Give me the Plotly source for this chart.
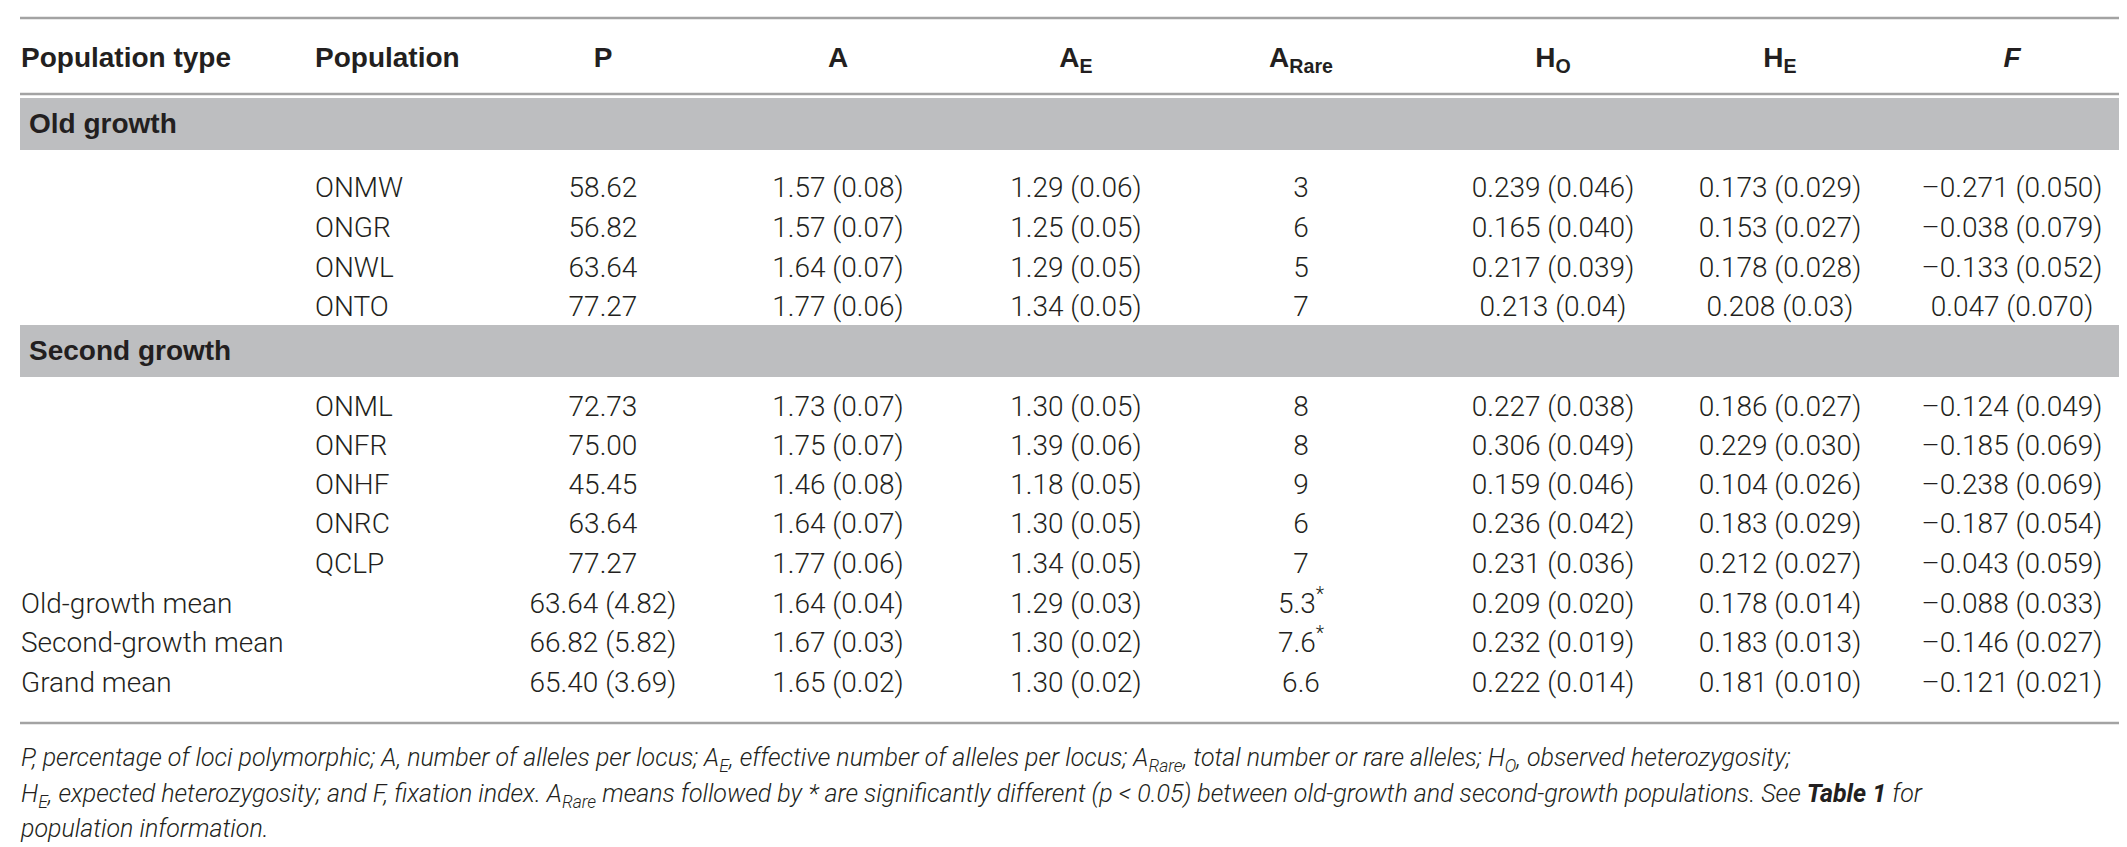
import plotly.graph_objects as go

# ---------------- data ----------------
populations = ["ONMW", "ONGR", "ONWL", "ONTO", "ONML", "ONFR", "ONHF", "ONRC", "QCLP"]
pop_groups = ["Old growth", "Second growth"]
group_sizes = [4, 5]
P = ["58.62", "56.82", "63.64", "77.27", "72.73", "75.00", "45.45", "63.64", "77.27"]
A = ["1.57", "1.57", "1.64", "1.77", "1.73", "1.75", "1.46", "1.64", "1.77"]
A_se = ["0.08", "0.07", "0.07", "0.06", "0.07", "0.07", "0.08", "0.07", "0.06"]
AE = ["1.29", "1.25", "1.29", "1.34", "1.30", "1.39", "1.18", "1.30", "1.34"]
AE_se = ["0.06", "0.05", "0.05", "0.05", "0.05", "0.06", "0.05", "0.05", "0.05"]
ARare = ["3", "6", "5", "7", "8", "8", "9", "6", "7"]
HO = ["0.239", "0.165", "0.217", "0.213", "0.227", "0.306", "0.159", "0.236", "0.231"]
HO_se = ["0.046", "0.040", "0.039", "0.04", "0.038", "0.049", "0.046", "0.042", "0.036"]
HE = ["0.173", "0.153", "0.178", "0.208", "0.186", "0.229", "0.104", "0.183", "0.212"]
HE_se = ["0.029", "0.027", "0.028", "0.03", "0.027", "0.030", "0.026", "0.029", "0.027"]
F = ["–0.271", "–0.038", "–0.133", "0.047", "–0.124", "–0.185", "–0.238", "–0.187", "–0.043"]
F_se = ["0.050", "0.079", "0.052", "0.070", "0.049", "0.069", "0.069", "0.054", "0.059"]

mean_labels = ["Old-growth mean", "Second-growth mean", "Grand mean"]
mean_P = ["63.64 (4.82)", "66.82 (5.82)", "65.40 (3.69)"]
mean_A = ["1.64 (0.04)", "1.67 (0.03)", "1.65 (0.02)"]
mean_AE = ["1.29 (0.03)", "1.30 (0.02)", "1.30 (0.02)"]
mean_ARare = ["5.3<sup>*</sup>", "7.6<sup>*</sup>", "6.6"]
mean_HO = ["0.209 (0.020)", "0.232 (0.019)", "0.222 (0.014)"]
mean_HE = ["0.178 (0.014)", "0.183 (0.013)", "0.181 (0.010)"]
mean_F = ["–0.088 (0.033)", "–0.146 (0.027)", "–0.121 (0.021)"]

headers = ["Population type", "Population", "P", "A", "A<sub>E</sub>", "A<sub>Rare</sub>",
           "H<sub>O</sub>", "H<sub>E</sub>", "<i>F</i>"]

footnote = [
    "<i>P, percentage of loci polymorphic; A, number of alleles per locus; A<sub>E</sub>, effective number of alleles per locus; "
    "A<sub>Rare</sub>, total number or rare alleles; H<sub>O</sub>, observed heterozygosity;</i>",
    "<i>H<sub>E</sub>, expected heterozygosity; and F, fixation index. A<sub>Rare</sub> means followed by * are significantly "
    "different (p &lt; 0.05) between old-growth and second-growth populations. See </i><b><i>Table 1</i></b><i> for</i>",
    "<i>population information.</i>",
]

# ---------------- layout constants ----------------
W, H = 2127, 847
col_x = [13, 307, 595, 830, 1068, 1293, 1545, 1772, 2004]
header_y = 52
band_y = [(90, 142), (317, 369)]
group_label_y = [118, 345]
row_y = [182, 222, 262, 301, 401, 440, 479, 518, 558]
mean_y = [598, 637, 677]
rule_y = [10, 86, 715]
foot_y = [752, 788, 823]
x_left, x_right = 12, 2115

TXT = "#231f20"
LIGHT = "Roboto, 'Liberation Sans', Arial, sans-serif"
BOLD = "'Liberation Sans', Arial, sans-serif"
FS = 28

fig = go.Figure()


def add_text(xs, ys, texts, pos="middle center", size=FS, family=LIGHT, weight=300, color=TXT):
    fig.add_trace(go.Scatter(
        x=xs, y=ys, text=texts, mode="text", textposition=pos,
        textfont=dict(family=family, size=size, color=color, weight=weight),
        hoverinfo="skip", showlegend=False, cliponaxis=False))


# header
for i, h in enumerate(headers):
    pos = "middle right" if i < 2 else "middle center"
    add_text([col_x[i]], [header_y], [h], pos=pos, family=BOLD, weight=700, size=FS)

# group labels
for g, gy in zip(pop_groups, group_label_y):
    add_text([21], [gy], [g], pos="middle right", family=BOLD, weight=700, size=FS)

# population rows
combo = lambda v, s: [f"{a} ({b})" for a, b in zip(v, s)]
cols = [populations, P, combo(A, A_se), combo(AE, AE_se), ARare,
        combo(HO, HO_se), combo(HE, HE_se), combo(F, F_se)]
for j, vals in enumerate(cols):
    pos = "middle right" if j == 0 else "middle center"
    add_text([col_x[j + 1]] * len(vals), row_y, vals, pos=pos)

# mean rows
add_text([col_x[0]] * 3, mean_y, mean_labels, pos="middle right")
mcols = [mean_P, mean_A, mean_AE, mean_ARare, mean_HO, mean_HE, mean_F]
for j, vals in enumerate(mcols):
    add_text([col_x[j + 2]] * 3, mean_y, vals)

# footnote
add_text([col_x[0]] * 3, foot_y, footnote, pos="middle right", size=25)

shapes = []
for (y0, y1) in band_y:
    shapes.append(dict(type="rect", xref="x", yref="y", x0=x_left, x1=x_right, y0=y0, y1=y1,
                       fillcolor="#bdbec0", line=dict(width=0), layer="below"))
for ry in rule_y:
    shapes.append(dict(type="line", xref="x", yref="y", x0=x_left, x1=x_right, y0=ry, y1=ry,
                       line=dict(color="#a3a3a3", width=2.5), layer="below"))

fig.update_layout(
    width=W, height=H, margin=dict(l=0, r=0, t=0, b=0),
    paper_bgcolor="white", plot_bgcolor="white",
    xaxis=dict(range=[0, W], visible=False, fixedrange=True),
    yaxis=dict(range=[H, 0], visible=False, fixedrange=True),
    shapes=shapes,
)
fig.write_html("out.html")
